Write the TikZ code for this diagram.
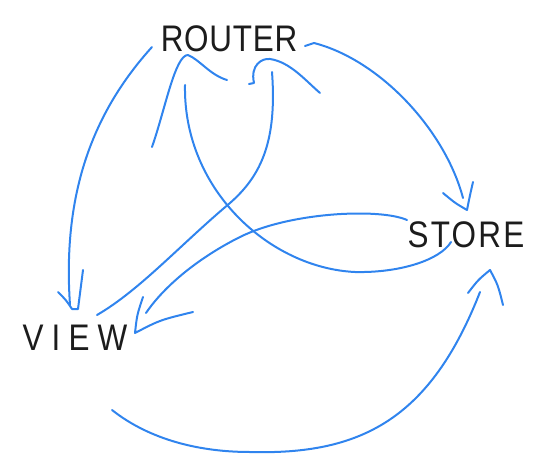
\documentclass[tikz,border=0pt]{standalone}
\usepackage{fontspec}
\setmainfont{Liberation Sans}[FakeStretch=0.85]
\definecolor{trait}{RGB}{48,132,238}
\definecolor{encre}{RGB}{28,28,28}

\begin{document}
\begin{tikzpicture}[x=1pt, y=-1pt,
    mot/.style={text=encre, inner sep=0pt, font=\fontsize{37}{37}\selectfont},
    trace/.style={draw=trait, line width=2pt, line cap=round, line join=round}]
    \useasboundingbox (0,0) rectangle (540,465);

    % Les trois mots
    \node[mot] (router) at (229,39) {\addfontfeature{LetterSpace=2}ROUTER};
    \node[mot] (view) at (75,338) {\addfontfeature{LetterSpace=22}VIEW};
    \node[mot] (store) at (466,235) {\addfontfeature{LetterSpace=6}STORE};

    % Extremites des traits
    \coordinate (rg) at (152,47);
    \coordinate (rd) at (305,46);
    \coordinate (vh) at (70,305);
    \coordinate (sh) at (463,198);
    \coordinate (vb) at (112,410);
    \coordinate (sb) at (480,292);

    % ROUTER vers VIEW (a gauche)
    \draw[trace] (rg) .. controls (95,110) and (62,190) .. (vh);
    \draw[trace] (58,292) .. controls (66,300) .. (72,309) -- (78,309) .. controls (80,290) .. (83,270);

    % ROUTER vers STORE (a droite)
    \draw[trace] (rd) -- (314,43) .. controls (380,60) and (445,130) .. (sh);
    \draw[trace] (443,193) .. controls (455,203) .. (467,210) .. controls (470,195) .. (473,182);

    % VIEW vers STORE (en bas)
    \draw[trace] (vb) .. controls (150,440) and (200,452) .. (250,452)
        .. controls (360,455) and (430,420) .. (sb);
    \draw[trace] (468,293) .. controls (478,280) .. (490,270) .. controls (498,285) .. (503,305);

    % STORE vers ROUTER (croisement)
    \draw[trace] (185,85) .. controls (183,190) and (270,268) .. (355,272)
        .. controls (400,273) and (440,260) .. (451,242);
    \draw[trace] (152,147) .. controls (165,110) and (175,55) .. (188,55)
        .. controls (200,60) and (210,75) .. (227,80);

    % VIEW vers ROUTER (croisement)
    \draw[trace] (272,72) .. controls (277,140) and (262,175) .. (230,203)
        .. controls (180,245) and (140,290) .. (97,315);
    \draw[trace] (249,84) -- (254,83) .. controls (250,65) and (262,58) .. (270,59)
        .. controls (290,62) and (305,80) .. (320,93);

    % STORE vers VIEW
    \draw[trace] (407,220) .. controls (380,208) and (290,212) .. (240,237)
        .. controls (200,257) and (165,285) .. (146,313);
    \draw[trace] (143,297) .. controls (137,315) .. (135,333) .. controls (160,320) .. (193,312);
\end{tikzpicture}
\end{document}
